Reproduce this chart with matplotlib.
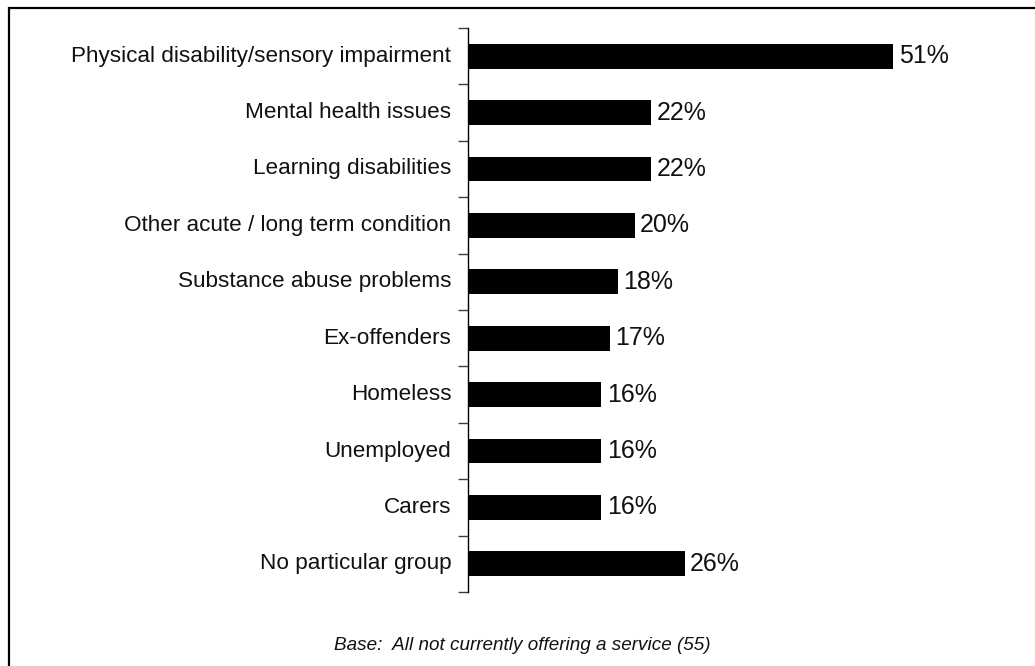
import matplotlib.pyplot as plt
from matplotlib.patches import Rectangle

plt.rcParams['font.family'] = ['Liberation Sans', 'DejaVu Sans']

# Groups the service is aimed at, with share of respondents (%)
groups = [
    'Physical disability/sensory impairment',
    'Mental health issues',
    'Learning disabilities',
    'Other acute / long term condition',
    'Substance abuse problems',
    'Ex-offenders',
    'Homeless',
    'Unemployed',
    'Carers',
    'No particular group',
]
shares = [51, 22, 22, 20, 18, 17, 16, 16, 16, 26]
base_note = 'Base:  All not currently offering a service (55)'

W, H = 1035, 666
fig = plt.figure(figsize=(W / 100, H / 100), dpi=100)

# outer frame, running off the right and bottom edges
fig.patches.append(Rectangle((9 / W, -0.05), 1.1, 1 - 8 / H + 0.05,
                             transform=fig.transFigure, fill=False,
                             edgecolor='black', linewidth=1.6))

ax = fig.add_axes([468 / W, 1 - 592 / H, 500 / W, (592 - 28) / H])
ypos = list(range(len(groups)))
ax.barh(ypos, shares, height=0.44, color='black')
for y, v in zip(ypos, shares):
    ax.annotate(f'{v}%', (v, y), xytext=(4, 0), textcoords='offset points',
                va='center', ha='left', fontsize=18, color='#111111')

ax.set_xlim(0, 60)
ax.set_ylim(len(groups) - 0.5, -0.5)
for s in ['top', 'right', 'bottom']:
    ax.spines[s].set_visible(False)
ax.spines['left'].set_linewidth(1.0)
ax.set_xticks([])

# category labels sit between the boundary ticks
ax.set_yticks([i - 0.5 for i in range(len(groups) + 1)])
ax.set_yticklabels([])
ax.tick_params(axis='y', length=7, width=1.0, color='#404040')
for y, g in zip(ypos, groups):
    ax.annotate(g, (0, y), xytext=(-12, 0), textcoords='offset points',
                va='center', ha='right', fontsize=16.2, color='#111111')

fig.text(522 / W, 1 - 646 / H, base_note, ha='center', va='center',
         fontsize=13.6, style='italic', color='#111111')

fig.savefig('out.png', dpi=100)
